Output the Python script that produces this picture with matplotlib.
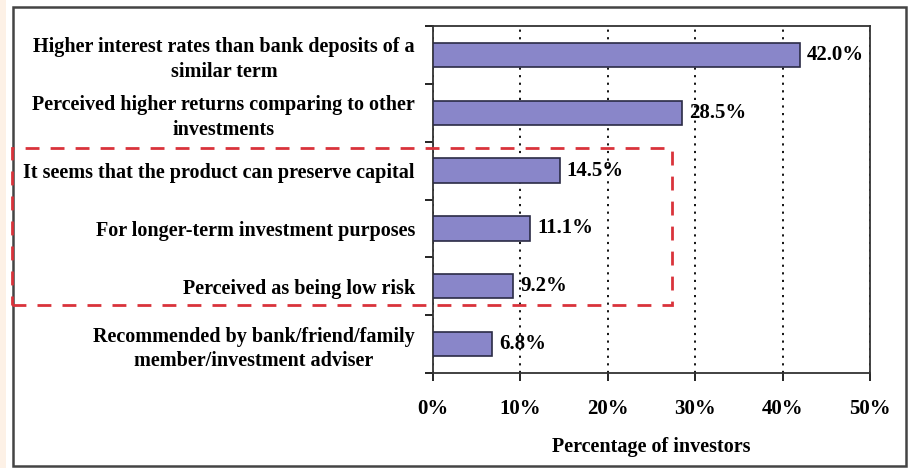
import matplotlib
matplotlib.use("Agg")
from matplotlib import pyplot as plt
from matplotlib.patches import Rectangle

# Data
reasons = [
    "Higher interest rates than bank deposits of a\nsimilar term",
    "Perceived higher returns comparing to other\ninvestments",
    "It seems that the product can preserve capital",
    "For longer-term investment purposes",
    "Perceived as being low risk",
    "Recommended by bank/friend/family\nmember/investment adviser",
]
shares = [42.0, 28.5, 14.5, 11.1, 9.2, 6.8]
x_ticks = [0, 10, 20, 30, 40, 50]
x_tick_labels = ["0%", "10%", "20%", "30%", "40%", "50%"]

plt.rcParams["font.family"] = ["Liberation Serif", "DejaVu Serif"]
plt.rcParams["font.weight"] = "bold"

fig = plt.figure(figsize=(9.15, 4.68), dpi=100)
ax = fig.add_axes([0.4732, 0.2030, 0.4776, 0.7414])

pos = list(range(len(reasons)))
ax.barh(pos, shares, height=0.42, color="#8986c9", edgecolor="#2b2b45", linewidth=1.2, zorder=3)

for y, v in zip(pos, shares):
    ax.annotate(f"{v:.1f}%", (v, y), xytext=(5, 0), textcoords="offset points",
                va="center", ha="left", fontsize=15, fontweight="bold", zorder=4)

ax.set_xlim(0, 50)
ax.set_ylim(len(reasons) - 0.5, -0.5)
ax.set_xticks(x_ticks)
ax.set_xticklabels(x_tick_labels, fontsize=15, fontweight="bold")
ax.tick_params(axis="x", direction="out", length=6, width=1.2, pad=13)

# ticks between categories, labels at category centres
ax.set_yticks([p + 0.5 for p in pos[:-1]] + [-0.5, len(reasons) - 0.5])
ax.set_yticklabels([])
ax.tick_params(axis="y", which="major", direction="out", length=6, width=1.2)
ax.set_yticks(pos, minor=True)
ax.set_yticklabels(reasons, minor=True, fontsize=14.5, fontweight="bold")
ax.tick_params(axis="y", which="minor", length=0, pad=13)
for lab in ax.get_yticklabels(minor=True):
    lab.set_multialignment("center")
    lab.set_linespacing(1.3)

ax.xaxis.grid(True, linestyle=(0, (1.2, 3)), color="black", linewidth=1.3, zorder=0)
for s in ax.spines.values():
    s.set_color("#333333")
    s.set_linewidth(1.3)

ax.set_xlabel("Percentage of investors", fontsize=14.5, fontweight="bold", labelpad=13)

# outer frame, side strip and the dashed highlight box
fig.patches.append(Rectangle((0, 0), 6 / 915, 1, transform=fig.transFigure,
                             facecolor="#fdf1e6", edgecolor="none", zorder=0))
fig.patches.append(Rectangle((0.0142, 0.0043), 0.976, 0.9808, transform=fig.transFigure,
                             facecolor="none", edgecolor="#444444", linewidth=1.8, zorder=1))
fig.patches.append(Rectangle((0.0131, 0.3483), 0.7213, 0.3355, transform=fig.transFigure,
                             facecolor="none", edgecolor="#d9333b", linewidth=2,
                             linestyle=(0, (5, 4)), zorder=5))

fig.savefig("out.png", dpi=100)
